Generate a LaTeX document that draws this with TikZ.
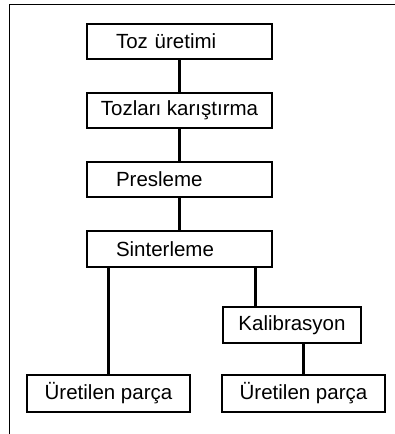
\documentclass[tikz,border=0pt]{standalone}
\usepackage{fontspec}
\setmainfont{Liberation Sans}
\begin{document}
\begin{tikzpicture}[x=1pt,y=-1pt,
  box/.style={draw,line width=2.8pt,rectangle,minimum height=35pt,inner sep=0pt,font=\fontsize{20.5}{22}\selectfont},
  lbox/.style={box,align=left,text width=127pt,inner xsep=29pt},
  conn/.style={line width=2.2pt},
  frame/.style={line width=1pt}]
\useasboundingbox (0,0) rectangle (395,434);
\coordinate (ftl) at (9,4.5);
\coordinate (ftr) at (395,4.5);
\coordinate (fbl) at (9,434);
\draw[frame] (ftr) -- (ftl) -- (fbl);
\node[lbox] (b1) at (179.5,41.5) {Toz üretimi};
\node[box,minimum width=185pt] (b2) at (179.5,110.5) {Tozları karıştırma};
\node[lbox] (b3) at (179.5,179.5) {Presleme};
\node[lbox,minimum height=36pt] (b4) at (179.5,249) {Sinterleme};
\node[box,minimum width=138pt,minimum height=36pt] (k) at (292,325) {Kalibrasyon};
\node[box,minimum width=163pt,minimum height=37pt] (u1) at (108.5,393.5) {Üretilen parça};
\node[box,minimum width=163pt,minimum height=37pt] (u2) at (303.5,393.5) {Üretilen parça};
\draw[conn] (b1.south) -- (b2.north);
\draw[conn] (b2.south) -- (b3.north);
\draw[conn] (b3.south) -- (b4.north);
\draw[conn] (u1.north) -- (u1.north |- b4.south);
\draw[conn] ([xshift=-18pt]b4.south east) -- ([xshift=-18pt]b4.south east |- k.north);
\draw[conn] (u2.north) -- (u2.north |- k.south);
\end{tikzpicture}
\end{document}
